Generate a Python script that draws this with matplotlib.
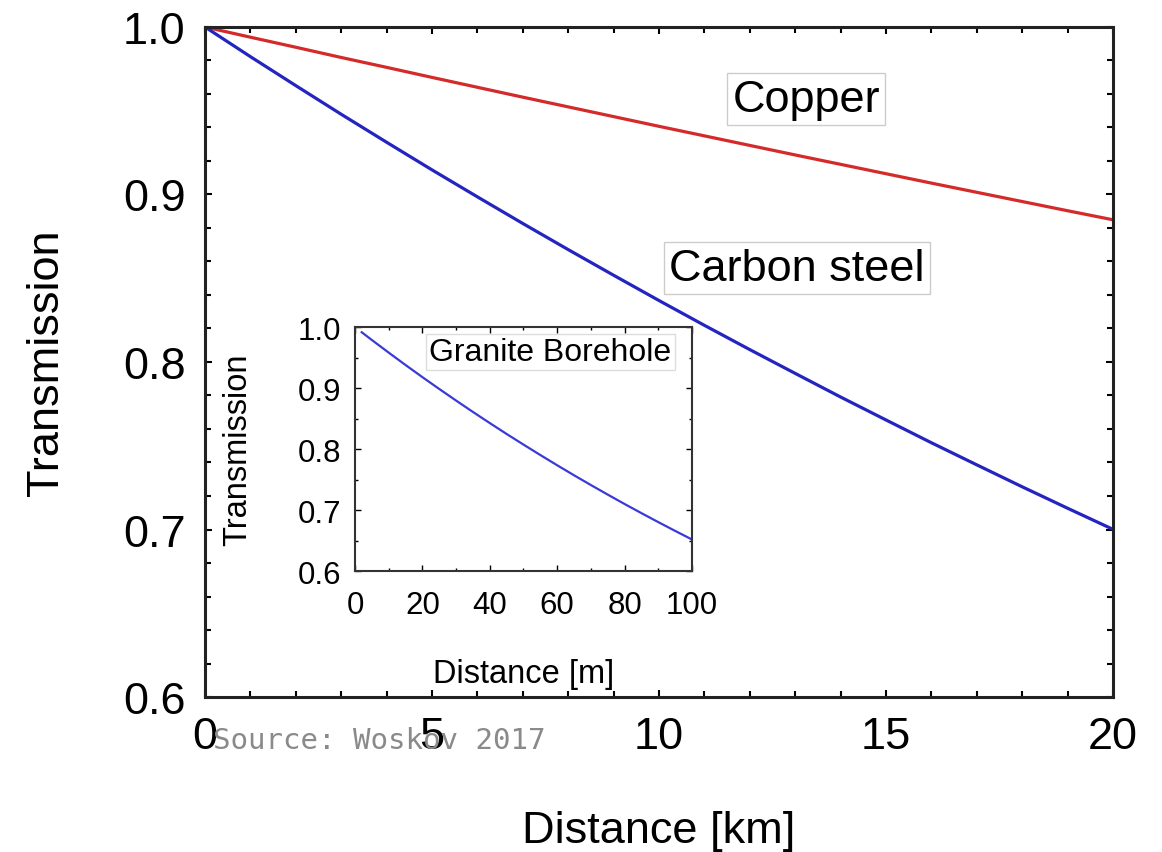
import numpy as np
import matplotlib
matplotlib.use('Agg')
import matplotlib.pyplot as plt
from matplotlib.ticker import MultipleLocator

plt.rcParams['font.family'] = ['Liberation Sans', 'DejaVu Sans']

# main plot: distance in km
dist_km = [0, 1, 2, 3, 4, 5, 6, 7, 8, 9, 10, 11, 12, 13, 14, 15, 16, 17, 18, 19, 20]
copper = [1.0, 0.9939, 0.9879, 0.9818, 0.9759, 0.9699, 0.9640, 0.9581, 0.9523, 0.9465, 0.9407,
          0.9350, 0.9293, 0.9236, 0.9180, 0.9124, 0.9068, 0.9013, 0.8958, 0.8903, 0.8849]
carbon_steel = [1.0, 0.9823, 0.9650, 0.9479, 0.9312, 0.9147, 0.8986, 0.8827, 0.8671, 0.8518, 0.8367,
                0.8219, 0.8074, 0.7932, 0.7791, 0.7654, 0.7518, 0.7386, 0.7255, 0.7127, 0.7001]

# inset: granite borehole, distance in m
dist_m = [2, 5, 10, 15, 20, 25, 30, 35, 40, 45, 50, 55, 60, 65, 70, 75, 80, 85, 90, 95, 100]
granite = [0.9915, 0.9788, 0.9581, 0.9378, 0.9179, 0.8985, 0.8795, 0.8608, 0.8426, 0.8247, 0.8073,
           0.7902, 0.7734, 0.7570, 0.7410, 0.7253, 0.7099, 0.6949, 0.6802, 0.6658, 0.6517]

fig = plt.figure(figsize=(11.62, 8.53), dpi=100)
ax = fig.add_axes([0.1764, 0.1817, 0.7814, 0.7855])

ax.plot(dist_km, copper, color='#d42a2a', lw=2.3)
ax.plot(dist_km, carbon_steel, color='#2424c0', lw=2.3)
ax.set_xlim(0, 20)
ax.set_ylim(0.6, 1.0)
ax.xaxis.set_major_locator(MultipleLocator(5))
ax.xaxis.set_minor_locator(MultipleLocator(1))
ax.yaxis.set_major_locator(MultipleLocator(0.1))
ax.yaxis.set_minor_locator(MultipleLocator(0.02))
ax.tick_params(which='both', direction='in', top=True, right=True, labelsize=32.5, width=1.5)
ax.tick_params(which='major', length=5)
ax.tick_params(which='minor', length=4)
ax.tick_params(axis='x', pad=14)
ax.tick_params(axis='y', pad=14)
for s in ax.spines.values():
    s.set_linewidth(2.2)
    s.set_color('#222222')
ax.set_xlabel('Distance [km]', fontsize=32.5, labelpad=38)
ax.set_ylabel('Transmission', fontsize=32.5, labelpad=40)

box = dict(boxstyle='square,pad=0.12', facecolor='white', edgecolor='#cccccc', lw=1)
ax.text(13.24, 0.957, 'Copper', fontsize=32.5, ha='center', va='center', bbox=box)
ax.text(13.04, 0.856, 'Carbon steel', fontsize=32.5, ha='center', va='center', bbox=box)

# inset
ins = fig.add_axes([0.3055, 0.3294, 0.29, 0.286])
ins.plot(dist_m, granite, color='#3a3ad8', lw=1.6)
ins.set_xlim(0, 100)
ins.set_ylim(0.6, 1.0)
ins.xaxis.set_major_locator(MultipleLocator(20))
ins.xaxis.set_minor_locator(MultipleLocator(10))
ins.yaxis.set_major_locator(MultipleLocator(0.1))
ins.yaxis.set_minor_locator(MultipleLocator(0.05))
ins.tick_params(which='both', direction='in', top=True, right=True, labelsize=22.5, width=1)
ins.tick_params(which='major', length=4)
ins.tick_params(which='minor', length=2.5)
ins.tick_params(axis='x', pad=14)
ins.tick_params(axis='y', pad=10)
for s in ins.spines.values():
    s.set_linewidth(1.5)
    s.set_color('#333333')
ins.set_xlabel('Distance [m]', fontsize=23.5, labelpad=27)
ins.set_ylabel('Transmission', fontsize=23.5, labelpad=32)
ins.text(58, 0.959, 'Granite Borehole', fontsize=23, ha='center', va='center',
         bbox=dict(boxstyle='square,pad=0.1', facecolor='white', edgecolor='#dddddd', lw=1))

fig.text(0.1833, 0.131, 'Source: Woskov 2017', fontsize=21, color='#8a8a8a',
         family='DejaVu Sans Mono', ha='left', va='center')

fig.savefig('out.png', dpi=100)
